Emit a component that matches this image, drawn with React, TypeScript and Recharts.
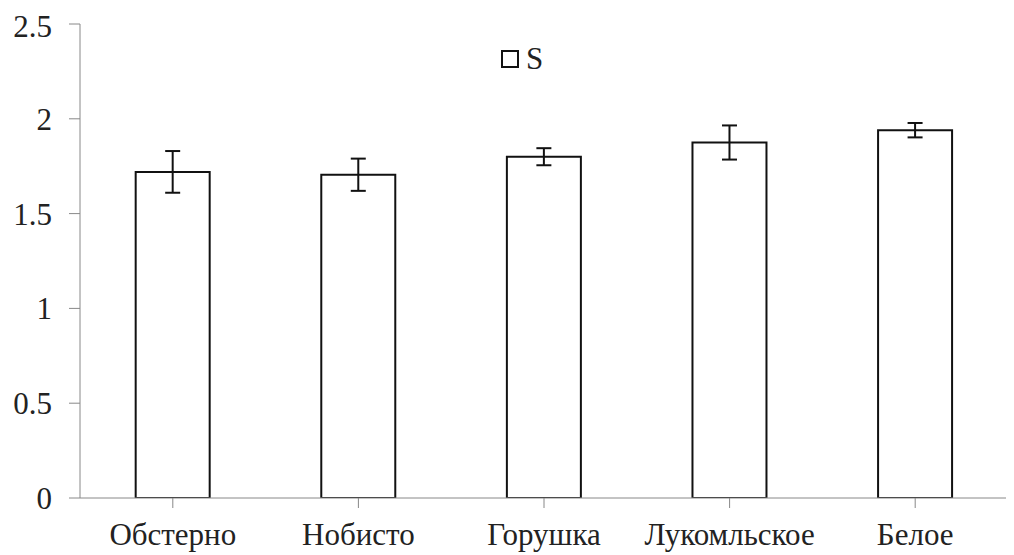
import React from 'react';
import { BarChart, Bar, XAxis, YAxis, ErrorBar, Legend } from 'recharts';

const categories = ['Обстерно', 'Нобисто', 'Горушка', 'Лукомльское', 'Белое'];
const sValues = [1.72, 1.705, 1.8, 1.875, 1.94];
const sErrors = [0.11, 0.085, 0.045, 0.09, 0.038];
const yTicks = [0, 0.5, 1, 1.5, 2, 2.5];
const seriesName = 'S';

const data = categories.map((name, i) => ({ name, S: sValues[i], err: sErrors[i] }));

const FONT = "Liberation Serif, DejaVu Serif, serif";
const FS = 31;

const LegendContent = () => (
  <div style={{ display: 'flex', alignItems: 'center', fontFamily: FONT, fontSize: FS, color: '#222' }}>
    <div style={{ width: 14, height: 14, border: '2px solid #111', background: '#fff', marginRight: 7 }} />
    <span>{seriesName}</span>
  </div>
);

export default function App() {
  return (
    <div style={{ width: 1006, height: 547, background: '#fff', fontFamily: FONT }}>
      <BarChart
        width={1006}
        height={547}
        data={data}
        margin={{ top: 16, right: 6, left: 0, bottom: 0 }}
        barCategoryGap="30%"
        style={{ fontFamily: FONT }}
      >
        <XAxis
          dataKey="name"
          height={57}
          stroke="#888"
          tickSize={10}
          tickMargin={15}
          interval={0}
          tick={{ fill: '#222', fontFamily: FONT, fontSize: FS }}
          scale="band"
        />
        <YAxis
          width={72}
          domain={[0, 2.5]}
          ticks={yTicks}
          stroke="#888"
          tickSize={11}
          tickMargin={17}
          tick={{ fill: '#222', fontFamily: FONT, fontSize: FS }}
          allowDataOverflow
        />
        <Legend
          layout="horizontal"
          align="center"
          verticalAlign="middle"
          content={<LegendContent />}
          wrapperStyle={{ position: 'absolute', top: 33, left: 493, width: 'auto', height: 'auto' }}
        />
        <Bar dataKey="S" name={seriesName} fill="#fff" stroke="#111" strokeWidth={2} isAnimationActive={false}>
          <ErrorBar dataKey="err" width={7.5} stroke="#111" strokeWidth={2} direction="y" />
        </Bar>
      </BarChart>
    </div>
  );
}
